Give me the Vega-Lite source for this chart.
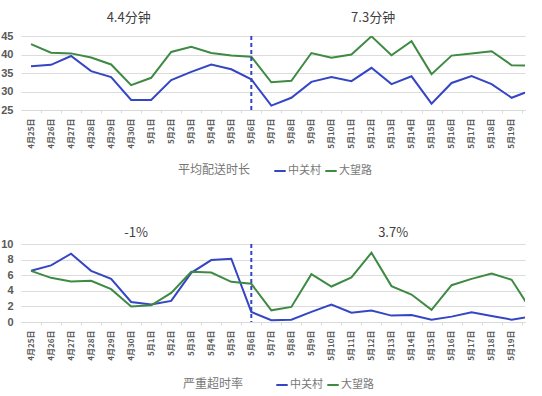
{
  "$schema": "https://vega.github.io/schema/vega-lite/v6.json",
  "padding": {"left": 0, "top": 11, "right": 5, "bottom": 0},
  "background": "white",
  "config": {
    "font": "Liberation Sans, Noto Sans CJK SC",
    "view": {"stroke": null},
    "axisY": {"grid": true, "gridColor": "#dcdcdc", "gridWidth": 1.2, "domain": false, "ticks": false, "labelFontSize": 11, "labelFontWeight": "bold", "labelColor": "#595959", "labelPadding": 8, "title": null},
    "axisX": {"grid": false, "domainColor": "#d9d9d9", "tickColor": "#d9d9d9", "tickSize": 3, "labelAngle": -90, "labelFontSize": 8, "labelFontWeight": "bold", "labelColor": "#595959", "labelPadding": 5, "title": null, "format": "%-m月%-d日", "tickCount": {"interval": "day", "step": 1}, "tickOffset": 10, "labelOffset": -10, "labelFont": "Noto Sans CJK SC"}
  },
  "datasets": {
    "lines": [
      {"p":"t","d":"2019-04-25","s":"中关村","v":36.8},{"p":"t","d":"2019-04-26","s":"中关村","v":37.2},{"p":"t","d":"2019-04-27","s":"中关村","v":39.6},{"p":"t","d":"2019-04-28","s":"中关村","v":35.5},{"p":"t","d":"2019-04-29","s":"中关村","v":33.9},{"p":"t","d":"2019-04-30","s":"中关村","v":27.7},{"p":"t","d":"2019-05-01","s":"中关村","v":27.7},{"p":"t","d":"2019-05-02","s":"中关村","v":33.1},{"p":"t","d":"2019-05-03","s":"中关村","v":35.3},{"p":"t","d":"2019-05-04","s":"中关村","v":37.3},{"p":"t","d":"2019-05-05","s":"中关村","v":36.0},{"p":"t","d":"2019-05-06","s":"中关村","v":33.3},{"p":"t","d":"2019-05-07","s":"中关村","v":26.2},{"p":"t","d":"2019-05-08","s":"中关村","v":28.3},{"p":"t","d":"2019-05-09","s":"中关村","v":32.6},{"p":"t","d":"2019-05-10","s":"中关村","v":33.9},{"p":"t","d":"2019-05-11","s":"中关村","v":32.8},{"p":"t","d":"2019-05-12","s":"中关村","v":36.4},{"p":"t","d":"2019-05-13","s":"中关村","v":32.0},{"p":"t","d":"2019-05-14","s":"中关村","v":34.1},{"p":"t","d":"2019-05-15","s":"中关村","v":26.7},{"p":"t","d":"2019-05-16","s":"中关村","v":32.3},{"p":"t","d":"2019-05-17","s":"中关村","v":34.2},{"p":"t","d":"2019-05-18","s":"中关村","v":32.0},{"p":"t","d":"2019-05-19","s":"中关村","v":28.3},{"p":"t","d":"2019-05-20","s":"中关村","v":30.4},
      {"p":"t","d":"2019-04-25","s":"大望路","v":42.8},{"p":"t","d":"2019-04-26","s":"大望路","v":40.5},{"p":"t","d":"2019-04-27","s":"大望路","v":40.3},{"p":"t","d":"2019-04-28","s":"大望路","v":39.2},{"p":"t","d":"2019-04-29","s":"大望路","v":37.3},{"p":"t","d":"2019-04-30","s":"大望路","v":31.7},{"p":"t","d":"2019-05-01","s":"大望路","v":33.7},{"p":"t","d":"2019-05-02","s":"大望路","v":40.7},{"p":"t","d":"2019-05-03","s":"大望路","v":42.1},{"p":"t","d":"2019-05-04","s":"大望路","v":40.4},{"p":"t","d":"2019-05-05","s":"大望路","v":39.7},{"p":"t","d":"2019-05-06","s":"大望路","v":39.4},{"p":"t","d":"2019-05-07","s":"大望路","v":32.5},{"p":"t","d":"2019-05-08","s":"大望路","v":32.9},{"p":"t","d":"2019-05-09","s":"大望路","v":40.4},{"p":"t","d":"2019-05-10","s":"大望路","v":39.1},{"p":"t","d":"2019-05-11","s":"大望路","v":40.0},{"p":"t","d":"2019-05-12","s":"大望路","v":44.9},{"p":"t","d":"2019-05-13","s":"大望路","v":39.8},{"p":"t","d":"2019-05-14","s":"大望路","v":43.6},{"p":"t","d":"2019-05-15","s":"大望路","v":34.7},{"p":"t","d":"2019-05-16","s":"大望路","v":39.7},{"p":"t","d":"2019-05-17","s":"大望路","v":40.3},{"p":"t","d":"2019-05-18","s":"大望路","v":40.9},{"p":"t","d":"2019-05-19","s":"大望路","v":37.1},{"p":"t","d":"2019-05-20","s":"大望路","v":37.0},
      {"p":"b","d":"2019-04-25","s":"中关村","v":6.56},{"p":"b","d":"2019-04-26","s":"中关村","v":7.26},{"p":"b","d":"2019-04-27","s":"中关村","v":8.75},{"p":"b","d":"2019-04-28","s":"中关村","v":6.56},{"p":"b","d":"2019-04-29","s":"中关村","v":5.53},{"p":"b","d":"2019-04-30","s":"中关村","v":2.57},{"p":"b","d":"2019-05-01","s":"中关村","v":2.24},{"p":"b","d":"2019-05-02","s":"中关村","v":2.7},{"p":"b","d":"2019-05-03","s":"中关村","v":6.3},{"p":"b","d":"2019-05-04","s":"中关村","v":7.94},{"p":"b","d":"2019-05-05","s":"中关村","v":8.11},{"p":"b","d":"2019-05-06","s":"中关村","v":1.29},{"p":"b","d":"2019-05-07","s":"中关村","v":0.22},{"p":"b","d":"2019-05-08","s":"中关村","v":0.3},{"p":"b","d":"2019-05-09","s":"中关村","v":1.29},{"p":"b","d":"2019-05-10","s":"中关村","v":2.24},{"p":"b","d":"2019-05-11","s":"中关村","v":1.2},{"p":"b","d":"2019-05-12","s":"中关村","v":1.46},{"p":"b","d":"2019-05-13","s":"中关村","v":0.82},{"p":"b","d":"2019-05-14","s":"中关村","v":0.9},{"p":"b","d":"2019-05-15","s":"中关村","v":0.3},{"p":"b","d":"2019-05-16","s":"中关村","v":0.69},{"p":"b","d":"2019-05-17","s":"中关村","v":1.25},{"p":"b","d":"2019-05-18","s":"中关村","v":0.77},{"p":"b","d":"2019-05-19","s":"中关村","v":0.3},{"p":"b","d":"2019-05-20","s":"中关村","v":0.7},
      {"p":"b","d":"2019-04-25","s":"大望路","v":6.56},{"p":"b","d":"2019-04-26","s":"大望路","v":5.66},{"p":"b","d":"2019-04-27","s":"大望路","v":5.2},{"p":"b","d":"2019-04-28","s":"大望路","v":5.28},{"p":"b","d":"2019-04-29","s":"大望路","v":4.21},{"p":"b","d":"2019-04-30","s":"大望路","v":1.98},{"p":"b","d":"2019-05-01","s":"大望路","v":2.15},{"p":"b","d":"2019-05-02","s":"大望路","v":3.73},{"p":"b","d":"2019-05-03","s":"大望路","v":6.44},{"p":"b","d":"2019-05-04","s":"大望路","v":6.35},{"p":"b","d":"2019-05-05","s":"大望路","v":5.15},{"p":"b","d":"2019-05-06","s":"大望路","v":4.9},{"p":"b","d":"2019-05-07","s":"大望路","v":1.5},{"p":"b","d":"2019-05-08","s":"大望路","v":1.93},{"p":"b","d":"2019-05-09","s":"大望路","v":6.14},{"p":"b","d":"2019-05-10","s":"大望路","v":4.55},{"p":"b","d":"2019-05-11","s":"大望路","v":5.71},{"p":"b","d":"2019-05-12","s":"大望路","v":8.88},{"p":"b","d":"2019-05-13","s":"大望路","v":4.6},{"p":"b","d":"2019-05-14","s":"大望路","v":3.52},{"p":"b","d":"2019-05-15","s":"大望路","v":1.55},{"p":"b","d":"2019-05-16","s":"大望路","v":4.72},{"p":"b","d":"2019-05-17","s":"大望路","v":5.53},{"p":"b","d":"2019-05-18","s":"大望路","v":6.22},{"p":"b","d":"2019-05-19","s":"大望路","v":5.41},{"p":"b","d":"2019-05-20","s":"大望路","v":1.4}
    ],
    "notes": [
      {"p":"t","d":"2019-04-29T21:00:00Z","v":50,"t":"4.4分钟"},
      {"p":"t","d":"2019-05-12T02:00:00Z","v":50,"t":"7.3分钟"},
      {"p":"b","d":"2019-04-30T06:00:00Z","v":11.45,"t":"-1%"},
      {"p":"b","d":"2019-05-13T02:00:00Z","v":11.45,"t":"3.7%"}
    ],
    "marks": [{"d":"2019-05-06"}]
  },
  "resolve": {"scale": {"color": "independent", "y": "independent"}, "legend": {"color": "independent"}},
  "spacing": 50,
  "vconcat": [
    {
      "width": 504, "height": 74,
      "layer": [
        {
          "data": {"name": "lines"},
          "transform": [{"filter": "datum.p === 't'"}],
          "mark": {"type": "line", "strokeWidth": 2, "clip": true},
          "encoding": {
            "x": {"field": "d", "type": "temporal", "scale": {"type": "utc", "domain": [{"year":2019,"month":4,"date":24,"hours":12,"utc":true},{"year":2019,"month":5,"date":19,"hours":16,"utc":true}]}},
            "y": {"field": "v", "type": "quantitative", "scale": {"domain": [25, 45]}, "axis": {"values": [25,30,35,40,45]}},
            "color": {"field": "s", "type": "nominal", "scale": {"domain": ["中关村","大望路"], "range": ["#3546c4","#3e8a43"]},
              "legend": {"title": "平均配送时长", "orient": "none", "legendX": 157, "legendY": 128, "direction": "horizontal", "titleOrient": "left", "symbolType": "stroke", "symbolStrokeWidth": 2, "symbolSize": 130, "titleFontSize": 12, "titleFontWeight": "normal", "titleColor": "#777777", "labelFontSize": 11, "labelColor": "#777777", "titlePadding": 22, "columnPadding": 0, "labelOffset": 1, "titleFont": "Noto Sans CJK SC", "labelFont": "Noto Sans CJK SC"}}
          }
        },
        {
          "data": {"name": "marks"},
          "mark": {"type": "rule", "color": "#3546c4", "strokeWidth": 2, "strokeDash": [4, 3]},
          "encoding": {"x": {"field": "d", "type": "temporal"}}
        },
        {
          "data": {"name": "notes"},
          "transform": [{"filter": "datum.p === 't'"}],
          "mark": {"type": "text", "fontSize": 13, "color": "#404040", "font": "Noto Sans CJK SC"},
          "encoding": {"x": {"field": "d", "type": "temporal"}, "y": {"field": "v", "type": "quantitative", "scale": {"domain": [25, 45]}, "axis": {"values": [25,30,35,40,45]}}, "text": {"field": "t"}}
        }
      ]
    },
    {
      "width": 504, "height": 78,
      "layer": [
        {
          "data": {"name": "lines"},
          "transform": [{"filter": "datum.p === 'b'"}],
          "mark": {"type": "line", "strokeWidth": 2, "clip": true},
          "encoding": {
            "x": {"field": "d", "type": "temporal", "scale": {"type": "utc", "domain": [{"year":2019,"month":4,"date":24,"hours":12,"utc":true},{"year":2019,"month":5,"date":19,"hours":16,"utc":true}]}},
            "y": {"field": "v", "type": "quantitative", "scale": {"domain": [0, 10]}, "axis": {"values": [0,2,4,6,8,10]}},
            "color": {"field": "s", "type": "nominal", "scale": {"domain": ["中关村","大望路"], "range": ["#3546c4","#3e8a43"]},
              "legend": {"title": "严重超时率", "orient": "none", "legendX": 162, "legendY": 134, "direction": "horizontal", "titleOrient": "left", "symbolType": "stroke", "symbolStrokeWidth": 2, "symbolSize": 130, "titleFontSize": 12, "titleFontWeight": "normal", "titleColor": "#777777", "labelFontSize": 11, "labelColor": "#777777", "titlePadding": 31, "columnPadding": 0, "labelOffset": 1, "titleFont": "Noto Sans CJK SC", "labelFont": "Noto Sans CJK SC"}}
          }
        },
        {
          "data": {"name": "marks"},
          "mark": {"type": "rule", "color": "#3546c4", "strokeWidth": 2, "strokeDash": [4, 3]},
          "encoding": {"x": {"field": "d", "type": "temporal"}}
        },
        {
          "data": {"name": "notes"},
          "transform": [{"filter": "datum.p === 'b'"}],
          "mark": {"type": "text", "fontSize": 13, "color": "#404040", "font": "Noto Sans CJK SC"},
          "encoding": {"x": {"field": "d", "type": "temporal"}, "y": {"field": "v", "type": "quantitative", "scale": {"domain": [0, 10]}, "axis": {"values": [0,2,4,6,8,10]}}, "text": {"field": "t"}}
        }
      ]
    }
  ]
}
